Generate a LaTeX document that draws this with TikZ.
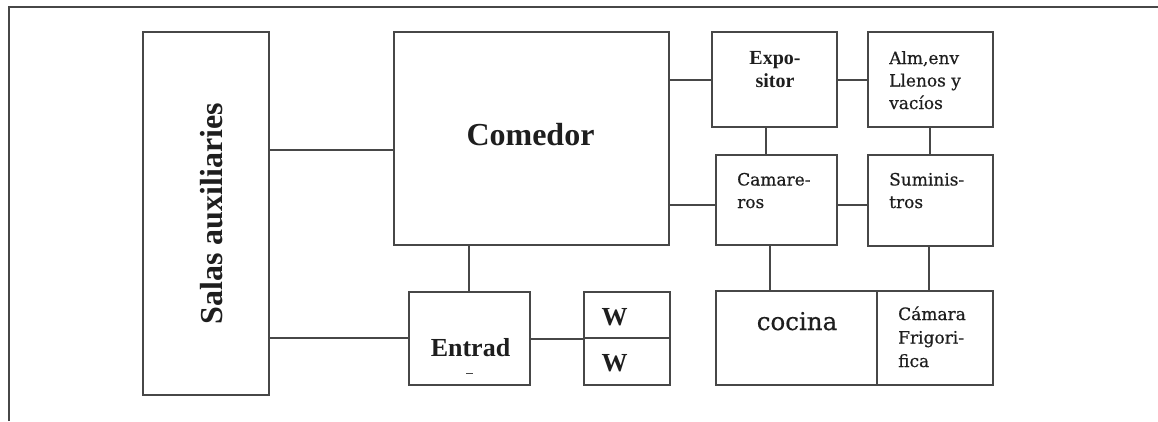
\documentclass[tikz,border=0pt]{standalone}
\usepackage{fontspec}
\setmainfont{Liberation Serif}
\newfontfamily\slabfont[FakeBold=0.5]{DejaVu Serif}
\usetikzlibrary{fit}
\definecolor{linegray}{HTML}{474747}
\definecolor{inkblack}{HTML}{1E1E1E}
\tikzset{
  roombox/.style={draw=linegray, line width=1.5pt, inner sep=0pt, fill=white},
  link/.style={draw=linegray, line width=1.5pt},
  bigbold/.style={text=inkblack, font=\bfseries\fontsize{32}{36}\selectfont, inner sep=0pt},
  midbold/.style={text=inkblack, font=\bfseries\fontsize{26}{30}\selectfont, inner sep=0pt},
  smallbold/.style={text=inkblack, font=\bfseries\fontsize{20}{23}\selectfont, inner sep=0pt, align=center},
  slabtext/.style={text=inkblack, font=\slabfont\fontsize{17}{22.5}\selectfont, inner sep=0pt, align=left},
}
\begin{document}
\begin{tikzpicture}[x=1pt,y=-1pt]
\useasboundingbox (0,0) rectangle (1158,421);
% outer frame
\draw[link] (9,421) -- (9,7) -- (1158,7);

% rooms
\node[roombox, fit={(143,32) (269,395)}] (salas) {};
\node[roombox, fit={(394,32) (669,245)}] (comedor) {};
\node[roombox, fit={(712,32) (837,127)}] (expo) {};
\node[roombox, fit={(868,32) (993,127)}] (alm) {};
\node[roombox, fit={(716,155) (837,245)}] (cam) {};
\node[roombox, fit={(868,155) (993,246)}] (sum) {};
\node[roombox, fit={(716,291) (877,385)}] (cocina) {};
\node[roombox, fit={(877,291) (993,385)}] (camara) {};
\node[roombox, fit={(409,292) (530,385)}] (entrad) {};
\node[roombox, fit={(584,292) (670,338)}] (wa) {};
\node[roombox, fit={(584,338) (670,385)}] (wb) {};

% connectors
\draw[link] (salas.east |- 0,150) -- (comedor.west |- 0,150);
\draw[link] (salas.east |- 0,338) -- (entrad.west |- 0,338);
\draw[link] (comedor.south -| 469,0) -- (entrad.north -| 469,0);
\draw[link] (entrad.east |- wa.south west) -- (wa.south west);
\draw[link] (comedor.east |- 0,80) -- (expo.west |- 0,80);
\draw[link] (comedor.east |- 0,205) -- (cam.west |- 0,205);
\draw[link] (expo.south -| 766,0) -- (cam.north -| 766,0);
\draw[link] (expo.east |- 0,80) -- (alm.west |- 0,80);
\draw[link] (alm.south -| 930,0) -- (sum.north -| 930,0);
\draw[link] (cam.east |- 0,205) -- (sum.west |- 0,205);
\draw[link] (cam.south -| 770,0) -- (cocina.north -| 770,0);
\draw[link] (sum.south -| 929,0) -- (camara.north -| 929,0);

% labels
\node[bigbold, rotate=90, anchor=base] (salasT) at (222,213.5) {Salas auxiliaries};
\node[bigbold, anchor=base] (comedorT) at (530.5,145) {Comedor};
\node[midbold, anchor=base] (entradT) at (470.5,356) {Entrad};
\draw[draw=linegray, line width=1pt] (466,373.5) -- (473,373.5);
\node[midbold, anchor=base] (waT) at (614.5,325) {W};
\node[midbold, anchor=base] (wbT) at (614.5,371) {W};
\node[smallbold, anchor=base] (expoT) at (775,87) {Expo-\\sitor};
\node[slabtext, anchor=base west] (almT) at (889,109) {Alm,env\\Llenos y\\vacíos};
\node[slabtext, anchor=base west] (camT) at (737,208) {Camare-\\ros};
\node[slabtext, anchor=base west] (sumT) at (889,208) {Suminis-\\tros};
\node[text=inkblack, font=\slabfont\fontsize{24.5}{28}\selectfont, inner sep=0pt, anchor=base] (cocinaT) at (797,330) {cocina};
\node[slabtext, font=\slabfont\fontsize{17}{23.5}\selectfont, anchor=base west] (camaraT) at (898,367) {Cámara\\Frigori-\\fica};
\end{tikzpicture}
\end{document}
